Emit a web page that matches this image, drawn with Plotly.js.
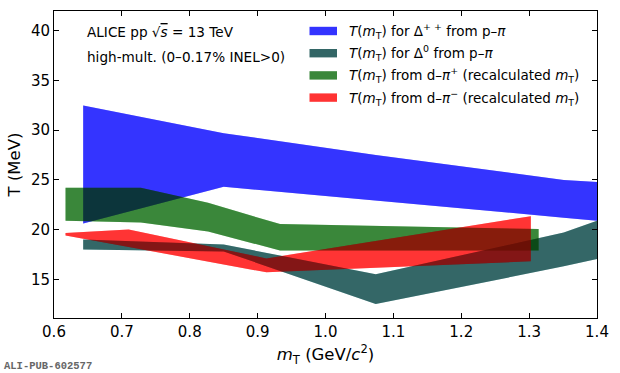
<!DOCTYPE html>
<html>
<head>
<meta charset="utf-8">
<script src="https://cdn.plot.ly/plotly-3.0.1.min.js"></script>
<style>
html,body{margin:0;padding:0;background:#fff;}
#chart{width:620px;height:373px;}
</style>
</head>
<body>
<div id="chart"></div>
<script>
// ---- data (band edges) ----
const mT_dpp = [0.643, 0.85, 1.074, 1.351, 1.40];
const T_dpp_hi = [32.5, 29.7, 27.5, 25.0, 24.8];
const T_dpp_lo = [20.6, 24.3, 22.9, 21.2, 20.9];

const mT_d0 = [0.643, 0.85, 1.074, 1.351, 1.40];
const T_d0_hi = [19.0, 18.5, 15.5, 19.7, 20.9];
const T_d0_lo = [18.0, 17.8, 12.5, 16.3, 17.05];

const mT_dpip = [0.617, 0.728, 0.827, 0.933, 1.314];
const T_dpip_hi = [24.2, 24.2, 22.7, 20.55, 20.05];
const T_dpip_lo = [20.9, 20.7, 19.8, 17.9, 17.9];

const mT_dpim = [0.617, 0.71, 0.913, 1.3025];
const T_dpim_hi = [19.65, 20.0, 17.1, 21.35];
const T_dpim_lo = [19.4, 18.25, 15.7, 16.8];

const legendNames = [
  '<i>T</i>(<i>m</i><sub>T</sub>) for Δ<sup>+ +</sup> from p–<i>π</i>',
  '<i>T</i>(<i>m</i><sub>T</sub>) for Δ<sup>0</sup> from p–<i>π</i>',
  '<i>T</i>(<i>m</i><sub>T</sub>) from d–<i>π</i><sup>+</sup> (recalculated <i>m</i><sub>T</sub>)',
  '<i>T</i>(<i>m</i><sub>T</sub>) from d–<i>π</i><sup>−</sup> (recalculated <i>m</i><sub>T</sub>)'
];
const xTicks = [0.6, 0.7, 0.8, 0.9, 1.0, 1.1, 1.2, 1.3, 1.4];
const yTicks = [15, 20, 25, 30, 35, 40];

// ---- styling ----
const bands = [
  {x: mT_dpp,  hi: T_dpp_hi,  lo: T_dpp_lo,  rgb: '0,0,255',  a2: 0.672, solid: '#3333ff'},
  {x: mT_d0,   hi: T_d0_hi,   lo: T_d0_lo,   rgb: '0,82,82',  a2: 0.672, solid: '#336666'},
  {x: mT_dpip, hi: T_dpip_hi, lo: T_dpip_lo, rgb: '0,120,0',  a2: 0.627, solid: '#3a873a'},
  {x: mT_dpim, hi: T_dpim_hi, lo: T_dpim_lo, rgb: '255,0,0',  a2: 0.672, solid: '#ff3333'}
];

const traces = [];
bands.forEach((b, i) => {
  const px = b.x.concat(b.x.slice().reverse());
  const py = b.hi.concat(b.lo.slice().reverse());
  // normal-blend layer
  traces.push({x: px, y: py, type: 'scatter', mode: 'lines', fill: 'toself',
    fillcolor: 'rgba(' + b.rgb + ',0.39)', line: {width: 0, color: 'rgba(0,0,0,0)'},
    hoverinfo: 'skip', showlegend: false, name: legendNames[i]});
  // multiply-blend layer
  traces.push({x: px, y: py, type: 'scatter', mode: 'lines', fill: 'toself',
    fillcolor: 'rgba(' + b.rgb + ',' + b.a2 + ')', line: {width: 0, color: 'rgba(0,0,0,0)'},
    hoverinfo: 'skip', showlegend: false, name: legendNames[i]});
});

// plot area in px: x 54..597, y 11..318
const L = 54, R = 597, T = 11, B = 318;
const px2x = p => (p - L) / (R - L);
const px2y = p => (B - p) / (B - T);

const font = 'DejaVu Sans, Verdana, sans-serif';
const annotations = [];
const shapes = [];
const rowY = [31, 53.2, 75.4, 97.6];
legendNames.forEach((n, i) => {
  shapes.push({type: 'rect', xref: 'paper', yref: 'paper',
    x0: px2x(309.5), x1: px2x(337), y0: px2y(rowY[i] + 4.2), y1: px2y(rowY[i] - 4.2),
    fillcolor: bands[i].solid, line: {width: 0}});
  annotations.push({xref: 'paper', yref: 'paper', x: px2x(347), y: px2y(rowY[i]),
    xanchor: 'left', yanchor: 'middle', showarrow: false, text: n,
    font: {family: font, size: 13.5, color: '#000'}});
});
annotations.push({xref: 'paper', yref: 'paper', x: px2x(85), y: px2y(32),
  xanchor: 'left', yanchor: 'middle', showarrow: false,
  text: 'ALICE pp √<span style="text-decoration:overline"><i>s</i></span> = 13 TeV',
  font: {family: font, size: 13.6, color: '#000'}});
annotations.push({xref: 'paper', yref: 'paper', x: px2x(85), y: px2y(57),
  xanchor: 'left', yanchor: 'middle', showarrow: false,
  text: 'high-mult. (0–0.17% INEL>0)',
  font: {family: font, size: 13.6, color: '#000'}});
annotations.push({xref: 'paper', yref: 'paper', x: px2x(2), y: px2y(366),
  xanchor: 'left', yanchor: 'middle', showarrow: false,
  text: '<b>ALI-PUB-602577</b>',
  font: {family: 'Liberation Mono, Courier New, monospace', size: 10.5, color: '#666'}});

const layout = {
  width: 620, height: 373,
  margin: {l: L, r: 620 - R, t: T, b: 373 - B, pad: 0},
  paper_bgcolor: '#fff', plot_bgcolor: '#fff',
  showlegend: false,
  font: {family: font, color: '#000'},
  xaxis: {range: [0.6, 1.4], tickvals: xTicks, ticktext: xTicks.map(v => v.toFixed(1)),
    ticks: 'inside', ticklen: 5, tickwidth: 1, tickcolor: '#000',
    showline: true, linecolor: '#000', linewidth: 1, mirror: 'ticks',
    showgrid: false, zeroline: false, tickfont: {size: 15, family: font},
    title: {text: '<i>m</i><sub>T</sub> (GeV/<i>c</i><sup>2</sup>)', font: {size: 16.5, family: font}, standoff: 8}},
  yaxis: {range: [11.1, 42], tickvals: yTicks, ticktext: yTicks.map(String),
    ticks: 'inside', ticklen: 5, tickwidth: 1, tickcolor: '#000',
    showline: true, linecolor: '#000', linewidth: 1, mirror: 'ticks',
    showgrid: false, zeroline: false, tickfont: {size: 15, family: font},
    title: {text: 'T (MeV)', font: {size: 16.5, family: font}, standoff: 6}},
  annotations: annotations,
  shapes: shapes
};

Plotly.newPlot('chart', traces, layout, {displayModeBar: false, staticPlot: true}).then(() => {
  const groups = document.querySelectorAll('.scatterlayer .trace');
  groups.forEach((g, i) => {
    if (i % 2 === 1) {
      g.querySelectorAll('path').forEach(p => { p.style.mixBlendMode = 'multiply'; });
    }
  });
});
</script>
</body>
</html>
